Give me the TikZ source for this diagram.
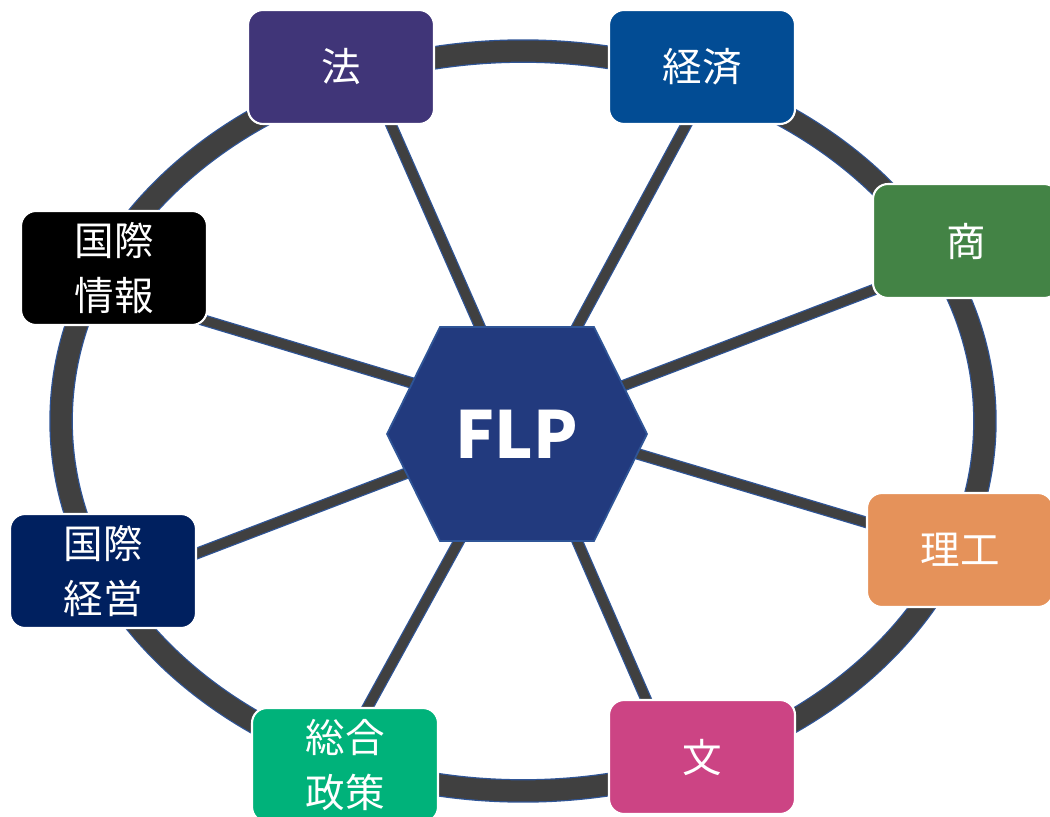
\documentclass[tikz,border=0pt]{standalone}
\usepackage{fontspec}
\setmainfont{Noto Sans CJK JP}
\usepackage{xcolor}
\usepackage{tikz}
\usetikzlibrary{backgrounds,calc}

\definecolor{ringgray}{HTML}{404040}
\definecolor{ringblue}{HTML}{2F5597}
\definecolor{hexfill}{HTML}{223A7E}
\definecolor{lawcol}{HTML}{403578}
\definecolor{ecocol}{HTML}{024C94}
\definecolor{comcol}{HTML}{438345}
\definecolor{infocol}{HTML}{000000}
\definecolor{mgmtcol}{HTML}{00205F}
\definecolor{scicol}{HTML}{E5925A}
\definecolor{polcol}{HTML}{00B27A}
\definecolor{litcol}{HTML}{CC4484}

\begin{document}
\begin{tikzpicture}[x=0.02cm,y=-0.02cm,
  ring/.style={draw=ringgray, line width=12pt, preaction={draw=ringblue, line width=13.4pt}},
  spoke/.style={draw=ringgray, line width=5.2pt, shorten <=-6pt, shorten >=-6pt,
    preaction={draw=ringblue, line width=6.6pt}},
  faculty/.style={draw=white, line width=1.2pt, rounded corners=0.3cm,
    minimum width=3.72cm, minimum height=2.28cm, inner sep=0pt,
    text=white, align=center, font=\fontsize{22.5}{31}\selectfont}]
\useasboundingbox (0,0) rectangle (1050,817);
\clip (0,0) rectangle (1050,817);
% hexagon in the middle
\draw [fill=hexfill, draw=ringblue, line width=1pt]
  (387,434) -- (440,327) -- (594,327) -- (647,434) -- (594,541) -- (440,541) -- cycle;
\node [text=white, font=\fontsize{37}{37}\bfseries\selectfont] (flp) at (517,434) {FLP};
% faculties
\node [faculty, fill=lawcol] (law) at (341,67) {法};
\node [faculty, fill=ecocol] (eco) at (702,67) {経済};
\node [faculty, fill=comcol] (com) at (966,241) {商};
\node [faculty, fill=infocol] (info) at (114,268) {国際\\情報};
\node [faculty, fill=mgmtcol] (mgmt) at (103,571) {国際\\経営};
\node [faculty, fill=scicol] (sci) at (960,550) {理工};
\node [faculty, fill=polcol] (pol) at (345,765) {総合\\政策};
\node [faculty, fill=litcol] (lit) at (702,757) {文};
% ring and spokes behind
\begin{scope}[on background layer]
\draw [ring] (523,421) ellipse [x radius=9.24cm, y radius=7.4cm];
\draw [spoke] ($(flp)+(-37,-107)$) -- ($(law)+(51,60)$);
\draw [spoke] ($(flp)+(60,-107)$) -- ($(eco)+(-17,60)$);
\draw [spoke] ($(flp)+(108,-49)$) -- ($(com)+(-93,49)$);
\draw [spoke] ($(flp)+(121,20)$) -- ($(sci)+(-95,-28)$);
\draw [spoke] ($(flp)+(61,109)$) -- ($(lit)+(-57,-60)$);
\draw [spoke] ($(flp)+(-59,109)$) -- ($(pol)+(25,-62)$);
\draw [spoke] ($(flp)+(-110,39)$) -- ($(mgmt)+(95,-18)$);
\draw [spoke] ($(flp)+(-105,-51)$) -- ($(info)+(89,52)$);
\end{scope}
\end{tikzpicture}
\end{document}
